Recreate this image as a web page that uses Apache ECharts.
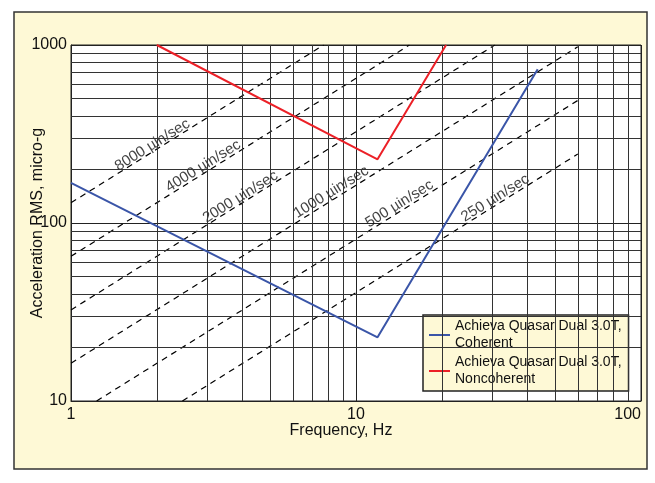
<!DOCTYPE html>
<html>
<head>
<meta charset="utf-8">
<script src="https://cdn.jsdelivr.net/npm/echarts@6/dist/echarts.min.js"></script>
<style>html,body{margin:0;padding:0;background:#fff}#c{width:655px;height:483px}</style>
</head>
<body>
<div id="c"></div>
<script>
// ---- data ----
const coherentName = 'Achieva Quasar Dual 3.0T,\nCoherent';
const noncoherentName = 'Achieva Quasar Dual 3.0T,\nNoncoherent';
const coherent = [[1, 168], [11.9, 22.8], [43.4, 730]];
const noncoherent = [[2, 1000], [11.9, 228], [20.7, 1000]];

// constant-velocity lines (µin/sec): endpoints
const velocityNames = ['8000 µin/sec', '4000 µin/sec', '2000 µin/sec', '1000 µin/sec', '500 µin/sec', '250 µin/sec'];
const velocityLines = [
  [[1, 130], [7.7, 1000]],
  [[1, 65], [15.4, 1000]],
  [[1, 32.5], [30.7, 1000]],
  [[1, 16.3], [60, 977]],
  [[1.23, 10], [60, 488]],
  [[2.46, 10], [60, 244]]
];
// where each velocity label sits (data coordinates)
const velocityLabelAt = [[1.93, 274], [2.91, 209], [3.93, 140], [8.19, 149], [14.2, 128], [30.8, 138]];

// grid lines
const freqMinorGrid = [2, 3, 4, 5, 6, 7, 8, 9, 20, 30, 40, 50, 60, 70, 80, 90];
const accMinorGrid = [20, 30, 40, 50, 60, 70, 80, 90, 200, 300, 400, 500, 600, 700, 800, 900];
const freqTicks = [1, 10, 100];
const accTicks = [10, 100, 1000];

const FONT = "'Liberation Sans', Arial, Helvetica, sans-serif";
const chart = echarts.init(document.getElementById('c'), null, {renderer: 'canvas'});

const series = [];
series.push({
  type: 'line', name: 'grid', data: [], z: 1, silent: true,
  markLine: {
    silent: true, symbol: ['none', 'none'], animation: false,
    label: {show: false},
    lineStyle: {color: '#333', width: 1, type: 'solid'},
    data: freqMinorGrid.map(v => ({xAxis: v})).concat(accMinorGrid.map(v => ({yAxis: v})))
  }
});
velocityLines.forEach((pts, i) => {
  series.push({
    type: 'line', name: velocityNames[i], data: pts, z: 3, silent: true,
    symbol: 'none', lineStyle: {color: '#000', width: 1.2, type: [6, 5]}
  });
  series.push({
    type: 'scatter', name: velocityNames[i] + ' label', z: 4, silent: true,
    symbolSize: 0,
    data: [{value: velocityLabelAt[i], name: velocityNames[i]}],
    label: {
      show: true, position: 'inside', rotate: 32,
      formatter: velocityNames[i],
      fontFamily: FONT, fontSize: 15, color: '#111'
    }
  });
});
series.push({
  type: 'line', name: coherentName, data: coherent, z: 5,
  symbol: 'none', lineStyle: {color: '#3a55a8', width: 2}, itemStyle: {color: '#3a55a8'}
});
series.push({
  type: 'line', name: noncoherentName, data: noncoherent, z: 5,
  symbol: 'none', lineStyle: {color: '#ec2027', width: 2}, itemStyle: {color: '#ec2027'}
});

chart.setOption({
  animation: false,
  backgroundColor: '#ffffff',
  graphic: {elements: [{
    type: 'rect', z: -10, silent: true,
    shape: {x: 14, y: 12, width: 633, height: 457},
    style: {fill: '#fef9d6', stroke: '#333', lineWidth: 1.5}
  }]},
  grid: {left: 71, right: 14, top: 45, bottom: 82, containLabel: false, outerBoundsMode: 'none',
    show: true, backgroundColor: '#fff', borderColor: '#222', borderWidth: 1},
  xAxis: {
    type: 'log', logBase: 10, min: freqTicks[0], max: freqTicks[freqTicks.length - 1],
    name: 'Frequency, Hz', nameLocation: 'middle', nameGap: 22, nameMoveOverlap: false,
    nameTextStyle: {fontFamily: FONT, fontSize: 16, color: '#111', padding: [0, 30, 0, 0]},
    axisLine: {show: true, lineStyle: {color: '#222'}},
    axisTick: {show: false},
    axisLabel: {fontFamily: FONT, fontSize: 16, color: '#111', margin: 6, alignMaxLabel: 'right',
      formatter: v => String(v)},
    splitLine: {show: true, lineStyle: {color: '#222', width: 1}}
  },
  yAxis: {
    type: 'log', logBase: 10, min: accTicks[0], max: accTicks[accTicks.length - 1],
    name: 'Acceleration RMS, micro-g', nameLocation: 'middle', nameGap: 25, nameMoveOverlap: false,
    nameTextStyle: {fontFamily: FONT, fontSize: 16, color: '#111'},
    axisLine: {show: true, lineStyle: {color: '#222'}},
    axisTick: {show: false},
    axisLabel: {fontFamily: FONT, fontSize: 16, color: '#111', margin: 4, formatter: v => String(v)},
    splitLine: {show: true, lineStyle: {color: '#222', width: 1}}
  },
  legend: {
    data: [coherentName, noncoherentName],
    orient: 'vertical', left: 423, top: 315,
    backgroundColor: '#fef9d6', borderColor: '#222', borderWidth: 1.5,
    padding: [3, 7, 3, 6], itemGap: 2,
    icon: 'rect', itemWidth: 21, itemHeight: 2,
    textStyle: {fontFamily: FONT, fontSize: 14, color: '#111', lineHeight: 17}
  },
  series: series
});
</script>
</body>
</html>
